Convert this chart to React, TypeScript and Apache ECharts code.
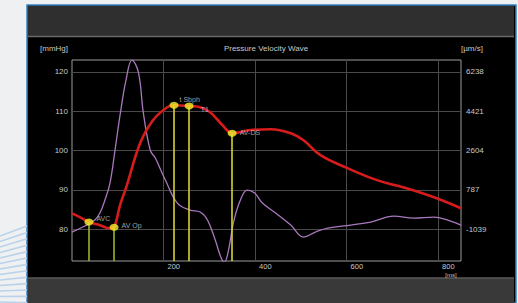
import React, { useEffect, useRef } from "react";
import * as echarts from "echarts";

// Pressure wave (left axis, mmHg)
const pressureT = [0, 18, 37, 61, 83, 92, 105, 120, 149, 177, 208, 223, 256, 280, 302, 329, 350, 390, 434, 478, 506, 543, 602, 668, 725, 791, 850];
const pressureV = [84.0, 83.0, 81.8, 81.0, 80.2, 80.5, 86.1, 91.2, 101.9, 107.7, 111.0, 111.5, 111.3, 111.0, 109.7, 106.4, 104.4, 105.2, 105.4, 104.4, 102.6, 98.8, 95.5, 92.4, 90.6, 88.1, 85.3];

// Velocity wave (right axis, µm/s)
const velocityT = [0, 28, 50, 61, 72, 83, 94, 105, 118, 131, 145, 156, 171, 182, 204, 230, 258, 280, 296, 313, 326, 333, 342, 353, 368, 383, 399, 416, 445, 478, 506, 532, 559, 609, 653, 703, 747, 791, 821, 850];
const velocityV = [-1173, -895, -618, -295, 306, 1091, 2616, 4232, 5854, 6780, 6224, 4320, 2610, 2248, 1231, 168, -156, -248, -618, -1543, -2375, -2560, -2005, -711, 306, 769, 630, 168, -295, -849, -1404, -1173, -988, -849, -711, -433, -526, -480, -618, -849];

// Event markers on the pressure wave
const markerNames = ["AVC", "AV Op", "t Sbph", "T1", "AV-DS"];
const markerT = [37, 92, 223, 256, 350];
const markerP = [81.8, 80.5, 111.5, 111.3, 104.4];

// Axis ticks
const leftTicks = [80, 90, 100, 110, 120];
const rightTicks = [-1039, 787, 2604, 4421, 6238];
const xTicks = [200, 400, 600, 800];

const FONT = "'Liberation Sans', Arial, sans-serif";
const TXT = "#c8c8c8";

export default function App() {
  const ref = useRef<HTMLDivElement>(null);

  useEffect(() => {
    document.body.style.margin = "0";
    const chart = echarts.init(ref.current!, null, { renderer: "svg" });

    const leftMin = 71.9;
    const leftMax = 123;
    const rightMin = -2512;
    const rightMax = 6784;

    const pressure = pressureT.map((t, i) => [t, pressureV[i]]);
    const velocity = velocityT.map((t, i) => [t, velocityV[i]]);

    const labelPos: any[] = [
      { position: "right", offset: [0, -4] },
      { position: "right", offset: [0, -2] },
      { position: "right", offset: [-2, -6] },
      { position: "right", offset: [4, 3] },
      { position: "right", offset: [0, -1] },
    ];

    const markers = markerT.map((t, i) => ({
      value: [t, markerP[i]],
      name: markerNames[i],
      label: { ...labelPos[i] },
    }));

    const vlines = markerT.map((t, i) => [
      { coord: [t, markerP[i]], lineStyle: { color: i < 2 ? "#9fb02a" : "#d6d234", width: 1.6 } },
      { coord: [t, leftMin] },
    ]);

    const stripes: any[] = [];
    for (let i = 0; i < 13; i++) {
      stripes.push({
        type: "line",
        z: -5,
        shape: { x1: 0, y1: 236 + i * 5.5, x2: 27, y2: 226 + i * 5.5 + i * 0.9 },
        style: { stroke: "#b9d2ea", lineWidth: 1.6 },
      });
    }

    chart.setOption({
      animation: false,
      textStyle: { fontFamily: FONT },
      graphic: [
        { type: "rect", z: -10, shape: { x: 0, y: 0, width: 518, height: 303 }, style: { fill: "#eef0f2" } },
        ...stripes,
        { type: "rect", z: -9, shape: { x: 27, y: 5, width: 489, height: 298 }, style: { fill: "#000000", stroke: "#3a84c4", lineWidth: 1.5 } },
        { type: "rect", z: -8, shape: { x: 28, y: 6, width: 486, height: 30 }, style: { fill: "#2f2f2f" } },
        { type: "line", z: -8, shape: { x1: 28, y1: 36.5, x2: 514, y2: 36.5 }, style: { stroke: "#6a6a6a", lineWidth: 1.5 } },
        { type: "rect", z: -8, shape: { x: 28, y: 278, width: 486, height: 25 }, style: { fill: "#393939" } },
        { type: "line", z: -8, shape: { x1: 28, y1: 278, x2: 514, y2: 278 }, style: { stroke: "#5a5a5a", lineWidth: 1.5 } },
        {
          type: "text",
          x: 266,
          y: 48,
          style: { text: "Pressure Velocity Wave", fill: TXT, font: `8px ${FONT}`, align: "center", verticalAlign: "middle" },
        },
        {
          type: "text",
          x: 451,
          y: 272,
          style: { text: "[ms]", fill: TXT, font: `6px ${FONT}`, align: "center", verticalAlign: "top" },
        },
      ],
      grid: {
        left: 72,
        top: 60,
        width: 389,
        height: 201,
        show: true,
        borderColor: "#9c9c9c",
        borderWidth: 1,
        backgroundColor: "transparent",
      },
      xAxis: {
        type: "value",
        min: 0,
        max: 850,
        axisLine: { show: false },
        axisTick: { show: false, customValues: xTicks },
        axisLabel: {
          customValues: xTicks,
          color: TXT,
          fontSize: 7.5,
          fontFamily: FONT,
          align: "left",
          padding: [0, 0, 0, 4],
          margin: 1,
        },
        splitLine: { show: true, lineStyle: { color: "#4a4a4a", width: 1 } },
      },
      yAxis: [
        {
          type: "value",
          min: leftMin,
          max: leftMax,
          name: "[mmHg]",
          nameLocation: "end",
          nameGap: 8,
          nameTextStyle: { color: TXT, fontSize: 8, fontFamily: FONT, align: "right", padding: [0, 4, 0, 0] },
          axisLine: { show: false },
          axisTick: { show: false, customValues: leftTicks },
          axisLabel: { customValues: leftTicks, color: TXT, fontSize: 8, fontFamily: FONT, margin: 4 },
          splitLine: { show: true, lineStyle: { color: "#4a4a4a", width: 1 } },
        },
        {
          type: "value",
          min: rightMin,
          max: rightMax,
          name: "[µm/s]",
          nameLocation: "end",
          nameGap: 8,
          nameTextStyle: { color: TXT, fontSize: 8, fontFamily: FONT, align: "left", padding: [0, 0, 0, 0] },
          axisLine: { show: false },
          axisTick: { show: false, customValues: rightTicks },
          axisLabel: {
            customValues: rightTicks,
            formatter: (v: number) => String(Math.round(v)),
            color: TXT,
            fontSize: 8,
            fontFamily: FONT,
            margin: 5,
          },
          splitLine: { show: false },
        },
      ],
      series: [
        {
          type: "line",
          name: "Velocity",
          yAxisIndex: 1,
          data: velocity,
          smooth: 0.4,
          showSymbol: false,
          lineStyle: { color: "#a878bc", width: 1.3 },
          z: 2,
        },
        {
          type: "line",
          name: "Pressure",
          yAxisIndex: 0,
          data: pressure,
          smooth: 0.4,
          showSymbol: false,
          lineStyle: { color: "#d81c1c", width: 2.6 },
          z: 4,
        },
        {
          type: "scatter",
          name: "Events",
          yAxisIndex: 0,
          data: markers,
          symbol: "circle",
          symbolSize: [9, 7],
          itemStyle: { color: "#f4f02c" },
          z: 6,
          label: {
            show: true,
            formatter: "{b}",
            color: TXT,
            fontSize: 7,
            fontFamily: FONT,
            distance: 3,
          },
          markLine: {
            silent: true,
            symbol: ["none", "none"],
            label: { show: false },
            lineStyle: { type: "solid" },
            z: 3,
            data: vlines,
          },
        },
      ],
    });

    return () => chart.dispose();
  }, []);

  return <div ref={ref} style={{ width: 518, height: 303 }} />;
}
